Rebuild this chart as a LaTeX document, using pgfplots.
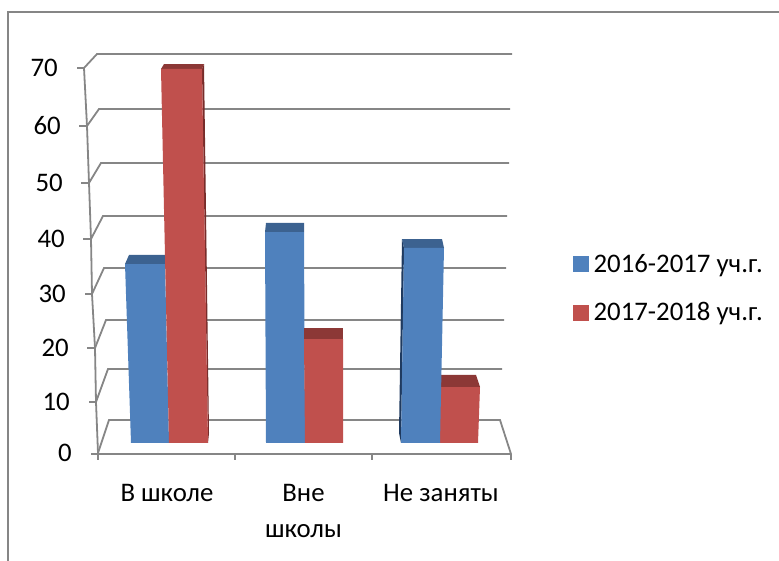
\documentclass[border=0pt]{standalone}
\usepackage{pgfplots}
\pgfplotsset{compat=1.18}
\usepackage{fontspec}
\setmainfont{Carlito}
\definecolor{gridgray}{HTML}{868686}
\definecolor{blueF}{HTML}{4F81BD}
\definecolor{blueT}{HTML}{3C6290}
\definecolor{blueS}{HTML}{1F3A5F}
\definecolor{redF}{HTML}{C0504D}
\definecolor{redT}{HTML}{8C3836}
\definecolor{redS}{HTML}{772C2A}
\newcommand{\gap}[1]{\rule{#1pt}{0pt}}
\pgfplotsset{gl/.style={draw=gridgray,line width=1.8pt,mark=none,forget plot}}
\begin{document}
\begin{tikzpicture}[x=1pt,y=1pt]
\useasboundingbox (0,0) rectangle (779,561);
\draw[gridgray,line width=1.8pt] (8,0) -- (8,549) -- (779,549);
% Frame layer: x and y in picture pixels (y downwards)
\begin{axis}[
  at={(98pt,107pt)}, anchor=south west, scale only axis,
  width=413pt, height=386pt,
  xmin=98, xmax=511, ymin=68, ymax=454, y dir=reverse,
  clip=false,
  axis line style={draw=none}, tick style={draw=none},
  xtick={167,303.5,441}, xticklabels={В школе,{Вне\\[6pt]школы},Не заняты},
  xticklabel pos=lower,
  xticklabel style={align=center,inner sep=0pt,yshift=-30pt},
  ytick={68,126,183,239,294,348,402,453},
  yticklabels={{70\gap{40}},{60\gap{37}},{50\gap{35}},{40\gap{33}},{30\gap{32}},{20\gap{29}},{10\gap{28}},{0\gap{26}}},
  yticklabel style={inner sep=0pt},
  tick label style={font=\fontsize{26.8}{30}\selectfont,text=black},
]
% back wall grid lines
\addplot[gl] coordinates {(84,68)(97,54)(512,54)};
\addplot[gl] coordinates {(87,126)(99,109)(510,109)};
\addplot[gl] coordinates {(89,183)(101,163)(509,163)};
\addplot[gl] coordinates {(91,239)(103,216)(507,216)};
\addplot[gl] coordinates {(92,294)(104,268)(506,268)};
\addplot[gl] coordinates {(95,348)(106,320)(504,320)};
\addplot[gl] coordinates {(96,402)(108,369)(502,369)};
\addplot[gl] coordinates {(98,453)(109,420)(500,420)(511,454)};
% front axis lines
\addplot[gl] coordinates {(84,68)(87,126)(89,183)(91,239)(92,294)(95,348)(96,402)(98,453)};
\addplot[gl] coordinates {(98,454)(511,454)};
% ticks
\addplot[gl] coordinates {(77,68)(84,68)};
\addplot[gl] coordinates {(79,126)(87,126)};
\addplot[gl] coordinates {(81,183)(89,183)};
\addplot[gl] coordinates {(83,239)(91,239)};
\addplot[gl] coordinates {(85,294)(92,294)};
\addplot[gl] coordinates {(87,348)(95,348)};
\addplot[gl] coordinates {(89,402)(96,402)};
\addplot[gl] coordinates {(91,454)(98,454)};
\addplot[gl] coordinates {(98,454)(98,460)};
\addplot[gl] coordinates {(235,454)(235,460)};
\addplot[gl] coordinates {(372,454)(372,460)};
\addplot[gl] coordinates {(511,454)(511,460)};
\end{axis}
% Bar layer: x in picture pixels, y in chart values
\begin{axis}[
  at={(98pt,107pt)}, anchor=south west, scale only axis,
  width=413pt, height=386pt,
  xmin=98, xmax=511, ymin=-2.059, ymax=70.19,
  clip=false, hide axis,
  legend style={at={(1.149,0.5178)},anchor=north west,draw=none,fill=none,inner sep=0pt,
    font=\fontsize{26.8}{30}\selectfont,row sep=28.5pt,
    nodes={inner sep=0pt}},
  legend cell align=left,
  legend image code/.code={\fill[#1] (0pt,-7.5pt) rectangle (15.5pt,7.5pt);\path (20.5pt,0pt);},
]
\addlegendimage{blueF}
\addlegendimage{redF}
% first group
\addplot[fill=blueT,draw=none,forget plot] coordinates {(125,33.5)(129,35.19)(170,35.19)(170,33.5)} --cycle;
\addplot[fill=blueF,draw=none,forget plot] coordinates {(131,0)(125,33.5)(165,33.5)(169,0)} --cycle;
\addplot[fill=redS,draw=none,forget plot] coordinates {(202,70)(204,70.93)(209,1.87)(208,0)} --cycle;
\addplot[fill=redT,draw=none,forget plot] coordinates {(161,70)(164,70.93)(204,70.93)(202,70)} --cycle;
\addplot[fill=redF,draw=none,forget plot] coordinates {(169,0)(161,70)(202,70)(208,0)} --cycle;
% second group
\addplot[fill=blueT,draw=none,forget plot] coordinates {(265,39.49)(266,41.18)(304,41.18)(304,39.49)} --cycle;
\addplot[fill=blueF,draw=none,forget plot] coordinates {(266,0)(265,39.49)(304,39.49)(305,0)} --cycle;
\addplot[fill=redT,draw=none,forget plot] coordinates {(304,19.46)(304,21.52)(343,21.52)(343,19.46)} --cycle;
\addplot[fill=redF,draw=none,forget plot] coordinates {(305,0)(304,19.46)(343,19.46)(343,0)} --cycle;
% third group
\addplot[fill=blueS,draw=none,forget plot] coordinates {(404,36.5)(402,38.18)(399,1.87)(401,0)} --cycle;
\addplot[fill=redT,draw=none,forget plot] coordinates {(440,10.48)(440,12.73)(476,12.73)(480,10.48)} --cycle;
\addplot[fill=redF,draw=none,forget plot] coordinates {(440,0)(440,10.48)(480,10.48)(478,0)} --cycle;
\addplot[fill=blueT,draw=none,forget plot] coordinates {(404,36.5)(402,38.18)(442,38.18)(444,36.5)} --cycle;
\addplot[fill=blueF,draw=none,forget plot] coordinates {(401,0)(404,36.5)(444,36.5)(440,0)} --cycle;
\legend{2016-2017 уч.г.,2017-2018 уч.г.}
\end{axis}
\end{tikzpicture}
\end{document}
